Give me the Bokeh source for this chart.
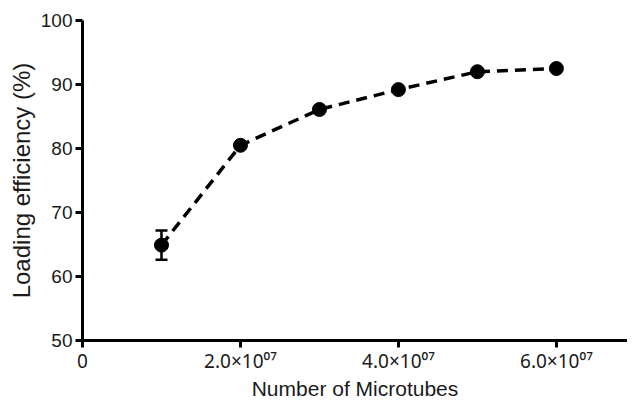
from bokeh.plotting import figure
from bokeh.models import FixedTicker, CustomJSTickFormatter, Range1d, Whisker, ColumnDataSource, TeeHead
from bokeh.embed import file_html
from bokeh.resources import INLINE

microtubes = [1e7, 2e7, 3e7, 4e7, 5e7, 6e7]
efficiency = [64.9, 80.5, 86.1, 89.2, 92.0, 92.5]
err = [2.3, 0, 0, 0, 0, 0]
x_ticks = [0, 2e7, 4e7, 6e7]
y_ticks = [50, 60, 70, 80, 90, 100]

FONT = "Liberation Sans"
TXT = "#1a1a1a"

p = figure(width=627, height=402, output_backend="svg", toolbar_location=None,
           x_range=Range1d(0, 6.9e7), y_range=Range1d(50, 100),
           min_border_left=82, min_border_right=0, min_border_top=20, min_border_bottom=59)
p.outline_line_color = None
p.grid.visible = False
p.background_fill_color = "white"
p.border_fill_color = "white"

src = ColumnDataSource(dict(x=[m for m, e in zip(microtubes, err) if e > 0],
                            lo=[v - e for v, e in zip(efficiency, err) if e > 0],
                            hi=[v + e for v, e in zip(efficiency, err) if e > 0]))
w = Whisker(source=src, base="x", lower="lo", upper="hi", line_width=2.5, line_color="black",
            upper_head=TeeHead(size=12, line_width=2.5, line_color="black"),
            lower_head=TeeHead(size=12, line_width=2.5, line_color="black"))
p.add_layout(w)

p.line(microtubes, efficiency, line_color="black", line_width=3.5, line_dash="11 7")
p.scatter(microtubes, efficiency, size=14, fill_color="black", line_color="black")

for ax in (p.xaxis[0], p.yaxis[0]):
    ax.axis_line_width = 3
    ax.major_tick_line_width = 3
    ax.major_tick_out = 7
    ax.major_tick_in = 0
    ax.minor_tick_line_color = None
    ax.major_label_text_font = FONT
    ax.axis_label_text_font = FONT
    ax.axis_label_text_font_style = "normal"
    ax.major_label_text_color = TXT
    ax.axis_label_text_color = TXT

p.xaxis.ticker = FixedTicker(ticks=x_ticks)
p.yaxis.ticker = FixedTicker(ticks=y_ticks)
p.xaxis.formatter = CustomJSTickFormatter(code="""
if (tick == 0) return "0";
const e = Math.floor(Math.log10(tick) + 1e-9);
const m = tick / Math.pow(10, e);
const sup = {"0":"\\u2070","1":"\\u00b9","2":"\\u00b2","3":"\\u00b3","4":"\\u2074",
             "5":"\\u2075","6":"\\u2076","7":"\\u2077","8":"\\u2078","9":"\\u2079"};
let s = "";
for (const c of String(e).padStart(2, "0")) s += sup[c];
return m.toFixed(1) + "\\u00d710" + s;
""")
p.xaxis.major_label_text_font = "Noto Sans"
p.xaxis.major_label_text_font_size = "19px"
p.yaxis.major_label_text_font_size = "19px"
p.xaxis.axis_label = "Number of Microtubes"
p.yaxis.axis_label = "Loading efficiency (%)"
p.xaxis.axis_label_text_font_size = "21px"
p.yaxis.axis_label_text_font_size = "24px"
p.xaxis.axis_label_standoff = 0
p.yaxis.axis_label_standoff = 3
p.xaxis.major_label_standoff = 0
p.yaxis.major_label_standoff = 3

open("out.html", "w").write(file_html(p, INLINE))
